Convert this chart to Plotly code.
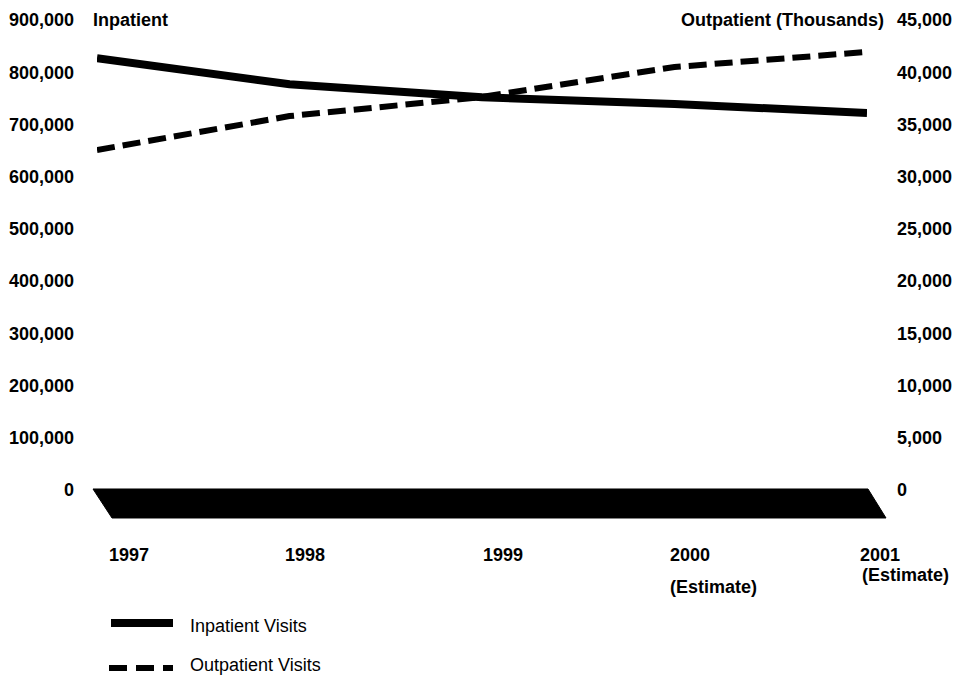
import plotly.graph_objects as go

# ---- data ----
years = [1997, 1998, 1999, 2000, 2001]
year_labels = ["1997", "1998", "1999", "2000", "2001"]
year_notes = ["", "", "", "(Estimate)", "(Estimate)"]
inpatient = [827000, 777000, 752000, 739000, 722000]
outpatient = [32550, 35800, 37630, 40500, 41940]
series_names = ["Inpatient Visits", "Outpatient Visits"]
left_ticks = [0, 100000, 200000, 300000, 400000, 500000, 600000, 700000, 800000, 900000]
right_ticks = [0, 5000, 10000, 15000, 20000, 25000, 30000, 35000, 40000, 45000]

# ---- layout geometry (pixels) ----
W, H = 957, 678
ML, MR, MT, MB = 97, 90, 20, 188
PW = W - ML - MR
PH = H - MT - MB
FONT = "Liberation Sans, Arial, Helvetica, sans-serif"


def px(xp):
    return (xp - ML) / PW


def py(yp):
    return (H - MB - yp) / PH


fig = go.Figure()
fig.add_trace(go.Scatter(
    x=years, y=inpatient, name=series_names[0], mode="lines",
    line=dict(color="black", width=8), yaxis="y", showlegend=False))
fig.add_trace(go.Scatter(
    x=years, y=outpatient, name=series_names[1], mode="lines",
    line=dict(color="black", width=6, dash="18px,8px"), yaxis="y2", showlegend=False))

shapes = []
# 3D floor under the plot
floor = [(93, 489), (868, 489), (886, 518), (112, 518)]
path = "M " + " L ".join(f"{px(a):.5f},{py(b):.5f}" for a, b in floor) + " Z"
shapes.append(dict(type="path", path=path, xref="paper", yref="paper",
                   fillcolor="black", line=dict(color="black", width=1), layer="below"))
# legend samples
shapes.append(dict(type="line", xref="paper", yref="paper",
                   x0=px(111), x1=px(173), y0=py(623), y1=py(623),
                   line=dict(color="black", width=8)))
shapes.append(dict(type="line", xref="paper", yref="paper",
                   x0=px(109), x1=px(173), y0=py(668), y1=py(668),
                   line=dict(color="black", width=6, dash="18px,9px")))

bold = dict(family=FONT, size=18, color="black")
reg = dict(family=FONT, size=18, color="black")

annotations = []
annotations.append(dict(text="<b>Inpatient</b>", xref="paper", yref="paper",
                        x=px(91), y=py(20), xanchor="left", yanchor="middle",
                        showarrow=False, font=bold))
annotations.append(dict(text="<b>Outpatient (Thousands)</b>", xref="paper", yref="paper",
                        x=px(886), y=py(20), xanchor="right", yanchor="middle",
                        showarrow=False, font=bold))
label_shift = [10, -7, -1, -7, -9]
note_shift = [0, 0, 0, -7, -7]
note_y = [0, 0, 0, 587, 575]
for i, yr in enumerate(years):
    annotations.append(dict(text=f"<b>{year_labels[i]}</b>", xref="x", yref="paper",
                            x=yr, xshift=label_shift[i], y=py(555),
                            xanchor="left", yanchor="middle", showarrow=False, font=bold))
    if year_notes[i]:
        annotations.append(dict(text=f"<b>{year_notes[i]}</b>", xref="x", yref="paper",
                                x=yr, xshift=note_shift[i], y=py(note_y[i]),
                                xanchor="left", yanchor="middle", showarrow=False, font=bold))
annotations.append(dict(text=series_names[0], xref="paper", yref="paper",
                        x=px(188), y=py(626), xanchor="left", yanchor="middle",
                        showarrow=False, font=reg))
annotations.append(dict(text=series_names[1], xref="paper", yref="paper",
                        x=px(188), y=py(665), xanchor="left", yanchor="middle",
                        showarrow=False, font=reg))

fig.update_layout(
    width=W, height=H,
    margin=dict(l=ML, r=MR, t=MT, b=MB, pad=0, autoexpand=False),
    paper_bgcolor="white", plot_bgcolor="white",
    showlegend=False,
    xaxis=dict(range=[years[0], years[-1]], visible=False, fixedrange=True),
    yaxis=dict(range=[0, 900000], tickmode="array", tickvals=left_ticks,
               ticktext=[f"<b>{v:,}</b>" for v in left_ticks], automargin=False,
               showgrid=False, zeroline=False, showline=False, ticks="",
               ticklabelstandoff=22, tickfont=bold),
    yaxis2=dict(range=[0, 45000], overlaying="y", side="right", tickmode="array",
                tickvals=right_ticks, ticktext=[f"<b>{v:,}</b>" for v in right_ticks],
                automargin=False,
                showgrid=False, zeroline=False, showline=False, ticks="",
                ticklabelstandoff=29, tickfont=bold),
    shapes=shapes,
    annotations=annotations,
)

fig.write_html("out.html", config={"displayModeBar": False},
               post_script="document.body.style.margin='0';document.body.style.padding='0';")
